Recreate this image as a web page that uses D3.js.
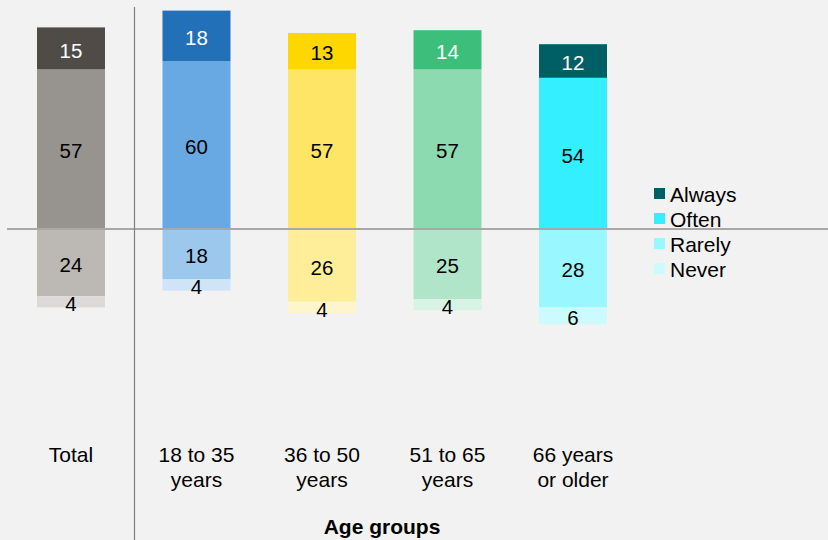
<!DOCTYPE html>
<html>
<head>
<meta charset="utf-8">
<script src="https://cdn.jsdelivr.net/npm/d3@7"></script>
<style>
  html, body { margin: 0; padding: 0; background: #f2f2f2; }
  svg { display: block; font-family: "Liberation Sans", Arial, sans-serif; }
</style>
</head>
<body>
<svg id="chart" width="828" height="540"></svg>
<script>
// ---- data ----
const categories = ["Total", "18 to 35 years", "36 to 50 years", "51 to 65 years", "66 years or older"];
const categoryLines = [["Total"], ["18 to 35", "years"], ["36 to 50", "years"], ["51 to 65", "years"], ["66 years", "or older"]];
const seriesNames = ["Always", "Often", "Rarely", "Never"];
const always = [15, 18, 13, 14, 12];
const often  = [57, 60, 57, 57, 54];
const rarely = [24, 18, 26, 25, 28];
const never  = [4, 4, 4, 4, 6];
const palette = [
  ["#4f4b47", "#979490", "#bcb8b4", "#dcdad8"],
  ["#2170b8", "#69a9e3", "#9cc8ee", "#cfe4f7"],
  ["#ffd700", "#ffe566", "#ffee99", "#fff5cc"],
  ["#3dbf7c", "#8bdab0", "#b1e5ca", "#d8f2e4"],
  ["#005f64", "#33efff", "#99f7ff", "#ccfbff"]
];
const alwaysTextColor = ["#ffffff", "#ffffff", "#000000", "#ffffff", "#ffffff"];
const axisTitle = "Age groups";

// ---- scales ----
const svg = d3.select("#chart");
const y = d3.scaleLinear().domain([-40, 80]).range([341, 5]);
const x = d3.scalePoint().domain(categories).range([71, 573]);
const barW = 68;

// build segments
const segs = [];
categories.forEach((c, i) => {
  segs.push({c, i, s: 1, v: often[i], y0: 0, y1: often[i]});
  segs.push({c, i, s: 0, v: always[i], y0: often[i], y1: often[i] + always[i]});
  segs.push({c, i, s: 2, v: rarely[i], y0: -rarely[i], y1: 0});
  segs.push({c, i, s: 3, v: never[i], y0: -rarely[i] - never[i], y1: -rarely[i]});
});

svg.append("g").selectAll("rect").data(segs).join("rect")
  .attr("x", d => x(d.c) - barW / 2)
  .attr("width", barW)
  .attr("y", d => y(d.y1))
  .attr("height", d => y(d.y0) - y(d.y1))
  .attr("fill", d => palette[d.i][d.s]);

svg.append("g").selectAll("text").data(segs).join("text")
  .attr("x", d => x(d.c))
  .attr("y", d => y((d.y0 + d.y1) / 2) + 2)
  .attr("dy", "0.35em")
  .attr("text-anchor", "middle")
  .attr("font-size", 20.5)
  .attr("fill", d => d.s === 0 ? alwaysTextColor[d.i] : "#000")
  .text(d => d.v);

// baseline
svg.append("line")
  .attr("x1", 7).attr("x2", 828)
  .attr("y1", y(0)).attr("y2", y(0))
  .attr("stroke", "#a8a8a8").attr("stroke-width", 2);

// vertical separator
svg.append("line")
  .attr("x1", 134.5).attr("x2", 134.5)
  .attr("y1", 7).attr("y2", 540)
  .attr("stroke", "#7f7f7f").attr("stroke-width", 1.2);

// category labels
const lab = svg.append("g").selectAll("text").data(categories).join("text")
  .attr("text-anchor", "middle")
  .attr("font-size", 21)
  .attr("fill", "#000");
lab.each(function(c, i) {
  const t = d3.select(this);
  categoryLines[i].forEach((ln, k) => {
    t.append("tspan").attr("x", x(c)).attr("y", 462 + k * 24.5).text(ln);
  });
});

// axis title
svg.append("text")
  .attr("x", 382).attr("y", 534)
  .attr("text-anchor", "middle")
  .attr("font-size", 21).attr("font-weight", "bold")
  .text(axisTitle);

// legend
const leg = svg.append("g").selectAll("g").data(seriesNames).join("g")
  .attr("transform", (d, k) => `translate(654, ${188 + k * 25})`);
leg.append("rect").attr("width", 11).attr("height", 11)
  .attr("fill", (d, k) => palette[4][k]);
leg.append("text").attr("x", 16).attr("y", 6.5).attr("dy", "0.35em")
  .attr("font-size", 21).text(d => d);
</script>
</body>
</html>
